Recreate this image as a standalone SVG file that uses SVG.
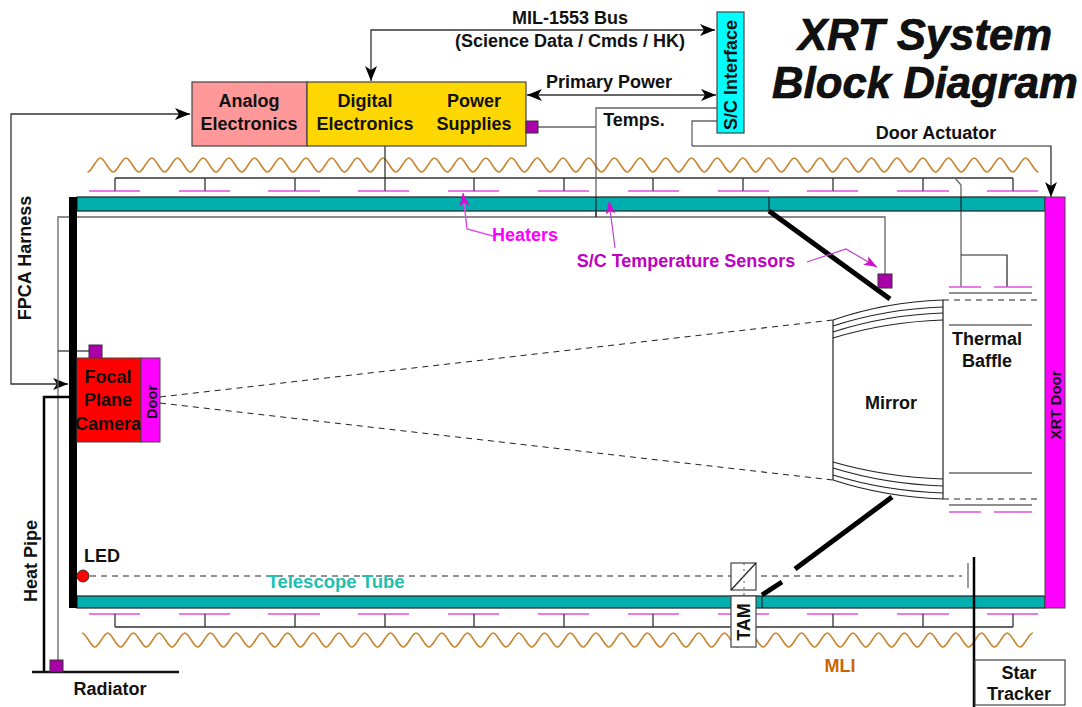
<svg xmlns="http://www.w3.org/2000/svg" width="1082" height="707" viewBox="0 0 1082 707">
<style>
text{font-family:"Liberation Sans",Arial,sans-serif;font-weight:bold;fill:#111;font-size:18px;text-anchor:middle}
.c{fill:none;stroke:#333;stroke-width:1.3}
.g{fill:none;stroke:#666;stroke-width:1.3}
.b{fill:none;stroke:#000;stroke-width:5}
.h{fill:none;stroke:#e050e0;stroke-width:1.5}
.k{fill:none;stroke:#222;stroke-width:1.2}
.d{fill:none;stroke:#222;stroke-width:1.1;stroke-dasharray:6 5}
.s{fill:#aa00aa;stroke:#333;stroke-width:1}
.t{fill:#00aeae;stroke:#222;stroke-width:1.2}
.p{fill:none;stroke:#c040d0;stroke-width:1.2}
.title{font-size:43.7px;font-style:italic;stroke:#000;stroke-width:.7}
</style>
<defs>
<marker id="a" markerWidth="16" markerHeight="12" refX="15" refY="6" orient="auto-start-reverse" markerUnits="userSpaceOnUse"><path d="M0 0L15 6L0 12L4 6Z" fill="#000"/></marker>
<marker id="m" markerWidth="14" markerHeight="10" refX="13" refY="5" orient="auto" markerUnits="userSpaceOnUse"><path d="M0 0L13 5L0 10L3 5Z" fill="#d010d0"/></marker>
<path id="wave" d="M87.5 172c4.3 0 8.6-14 12.85-14s8.6 14 12.85 14s8.6-14 12.85-14s8.6 14 12.85 14s8.6-14 12.85-14s8.6 14 12.85 14s8.6-14 12.85-14s8.6 14 12.85 14s8.6-14 12.85-14s8.6 14 12.85 14s8.6-14 12.85-14s8.6 14 12.85 14s8.6-14 12.85-14s8.6 14 12.85 14s8.6-14 12.85-14s8.6 14 12.85 14s8.6-14 12.85-14s8.6 14 12.85 14s8.6-14 12.85-14s8.6 14 12.85 14s8.6-14 12.85-14s8.6 14 12.85 14s8.6-14 12.85-14s8.6 14 12.85 14s8.6-14 12.85-14s8.6 14 12.85 14s8.6-14 12.85-14s8.6 14 12.85 14s8.6-14 12.85-14s8.6 14 12.85 14s8.6-14 12.85-14s8.6 14 12.85 14s8.6-14 12.85-14s8.6 14 12.85 14s8.6-14 12.85-14s8.6 14 12.85 14s8.6-14 12.85-14s8.6 14 12.85 14s8.6-14 12.85-14s8.6 14 12.85 14s8.6-14 12.85-14s8.6 14 12.85 14s8.6-14 12.85-14s8.6 14 12.85 14s8.6-14 12.85-14s8.6 14 12.85 14s8.6-14 12.85-14s8.6 14 12.85 14s8.6-14 12.85-14s8.6 14 12.85 14s8.6-14 12.85-14s8.6 14 12.85 14s8.6-14 12.85-14s8.6 14 12.85 14s8.6-14 12.85-14s8.6 14 12.85 14s8.6-14 12.85-14s8.6 14 12.85 14s8.6-14 12.85-14s8.6 14 12.85 14s8.6-14 12.85-14s8.6 14 12.85 14s8.6-14 12.85-14s8.6 14 12.85 14s8.6-14 12.85-14s8.6 14 12.85 14s8.6-14 12.85-14s8.6 14 12.85 14s8.6-14 12.85-14s8.6 14 12.85 14s8.6-14 12.85-14s8.6 14 12.85 14s8.6-14 12.85-14s8.6 14 12.85 14" fill="none" stroke="#c9852f" stroke-width="1.6"/>
<path id="heat" class="h" d="M89 0h51M179 0h51M268 0h52M358 0h51M448 0h51M538 0h51M628 0h51M718 0h51M807 0h51M897 0h52M987 0h51"/>
<path id="tick" class="c" d="M115 178V191M205 178V191M295 178V191M385 178V191M474 178V191M564 178V191M653 178V191M743 178V191M833 178V191M923 178V191M1013 178V191M115 178H1013"/>
</defs>

<g id="connectors">
<use href="#wave"/>
<use href="#wave" transform="translate(-5.5 805) scale(1 -1)"/>
<use href="#heat" y="191"/>
<use href="#heat" y="614"/>
<use href="#tick"/>
<use href="#tick" transform="translate(0 805) scale(1 -1)"/>
<path class="c" d="M385 146V178"/>
<path class="c" d="M371 81V30H715" marker-start="url(#a)" marker-end="url(#a)"/>
<path class="c" d="M527 95H716" marker-start="url(#a)" marker-end="url(#a)"/>
<path class="g" d="M538 127H596M596 217V108H717"/>
<path class="g" d="M717 121H692V146"/>
<path class="k" d="M692 146H1051V197" marker-end="url(#a)"/>
<path class="c" d="M190 114H11V384H68" marker-start="url(#a)" marker-end="url(#a)"/>
<path class="g" d="M58 660V217H885V274"/>
<path class="c" d="M58 351H89"/>
<path d="M69 397H44V672" fill="none" stroke="#000" stroke-width="2.5"/>
<path d="M32 672H179" fill="none" stroke="#111" stroke-width="2.5"/>
<path class="g" d="M955 178L961 185V287"/>
<path class="k" d="M961 255H1007V287"/>
<path class="h" d="M949 287H981M994 287H1032M949 512H981M994 512H1032"/>
<path class="k" d="M949 293H1032M949 325H1032M949 473H1032M949 505H1032"/>
<path class="d" d="M943 300H1040M943 499H1040"/>
<path class="d" d="M160 397L833 320M160 403L833 480"/>
<path class="d" d="M90 576H962"/>
<path class="g" d="M968 563V588"/>
</g>

<g id="tubes">
<rect class="t" x="77" y="197" width="968" height="14"/>
<rect class="t" x="77" y="596" width="968" height="12" stroke="#555"/>
<rect x="69" y="197" width="8" height="411" fill="#000"/>
<path class="k" d="M769 197V211M762 596V608M596 197V217M961 197V211"/>
</g>

<g id="baffle-lines">
<path d="M769 211L890 299M892 497L795 569M762 595L782 582" class="b"/>
<path d="M974 557V707" fill="none" stroke="#000" stroke-width="2.5"/>
</g>

<g id="analog"><rect x="192" y="82" width="115" height="64" fill="#ff9999" stroke="#444" stroke-width="1.2"/><text x="249" y="107">Analog</text><text x="249" y="130">Electronics</text></g>
<g id="digital"><rect x="307" y="82" width="219" height="64" fill="#ffd700" stroke="#444" stroke-width="1.2"/><text x="365" y="107">Digital</text><text x="365" y="130">Electronics</text><text x="474" y="107">Power</text><text x="474" y="130">Supplies</text></g>
<g id="sensor-pse"><rect class="s" x="526" y="121" width="12" height="12"/></g>
<g id="sc-interface"><rect x="717" y="12" width="27" height="121" fill="#00ffff" stroke="#444" stroke-width="1.2"/><text transform="translate(737 75) rotate(-90)">S/C Interface</text></g>
<g id="xrt-door"><rect x="1045" y="197" width="20" height="411" fill="#ff00ff" stroke="#444" stroke-width="1"/><text transform="translate(1061 405) rotate(-90)" style="font-size:15px">XRT Door</text></g>
<g id="sensor-top"><rect class="s" x="878" y="274" width="14" height="14"/></g>
<g id="sensor-camera"><rect class="s" x="89" y="345" width="13" height="13"/></g>
<g id="sensor-radiator"><rect class="s" x="50" y="660" width="13" height="12"/></g>
<g id="camera"><rect x="77" y="358" width="64" height="84" fill="#ff0000" stroke="#444" stroke-width="1"/><text x="108" y="383">Focal</text><text x="108" y="406">Plane</text><text x="108" y="430">Camera</text></g>
<g id="camera-door"><rect x="141" y="358" width="19" height="84" fill="#ff00ff" stroke="#444" stroke-width="1"/><text transform="translate(157 402) rotate(-90)" style="font-size:14.5px">Door</text></g>
<g id="mirror">
<path class="k" d="M833 320V480M943 300V499"/>
<path class="k" d="M833 320Q885 302 943 300M833 326Q885 309 943 307M833 332Q885 315 943 313M833 338Q885 322 943 320M833 462Q885 477 943 479M833 468Q885 484 943 486M833 475Q885 491 943 493M833 480Q885 497 943 499"/>
<text x="891" y="409">Mirror</text>
</g>
<g id="led"><circle cx="83" cy="576" r="6" fill="#ff0000" stroke="#333" stroke-width="1"/><text x="102" y="562">LED</text></g>
<g id="tam"><rect x="731" y="563" width="25" height="27" fill="#fff" stroke="#444" stroke-width="1.2"/><path class="k" d="M731 590L756 563"/><path d="M744 563V596" fill="none" stroke="#555" stroke-dasharray="2 4"/><rect x="731" y="596" width="25" height="51" fill="#fff" stroke="#444" stroke-width="1.2"/><text transform="translate(750 622) rotate(-90)">TAM</text></g>
<g id="star-tracker"><rect x="975" y="660" width="90" height="45" fill="#fff" stroke="#444" stroke-width="1.2"/><text x="1019" y="679">Star</text><text x="1019" y="700">Tracker</text></g>

<g id="labels">
<text x="570" y="24">MIL-1553 Bus</text>
<text x="570" y="47">(Science Data / Cmds / HK)</text>
<text x="609" y="88">Primary Power</text>
<text x="634" y="126">Temps.</text>
<text x="936" y="139">Door Actuator</text>
<text x="987" y="345">Thermal</text><text x="987" y="367">Baffle</text>
<text transform="translate(31 258) rotate(-90)">FPCA Harness</text>
<text transform="translate(37 561) rotate(-90)">Heat Pipe</text>
<text x="110" y="695">Radiator</text>
<text x="336" y="588" style="fill:#1fc0b0;font-size:18.5px">Telescope Tube</text>
<text x="840" y="672" style="fill:#cc6600">MLI</text>
<text x="525" y="241" style="fill:#ff00ff">Heaters</text>
<text x="686" y="267" style="fill:#c000c0">S/C Temperature Sensors</text>
<text class="title" x="925" y="50">XRT System</text>
<text class="title" x="925" y="98">Block Diagram</text>
</g>
<g id="callouts">
<path class="h" d="M493 236L467 229L463 193" marker-end="url(#m)"/>
<path class="p" d="M615 248L609 201" marker-end="url(#m)"/>
<path class="p" d="M807 262L846 249L877 267" marker-end="url(#m)"/>
</g>
</svg>
